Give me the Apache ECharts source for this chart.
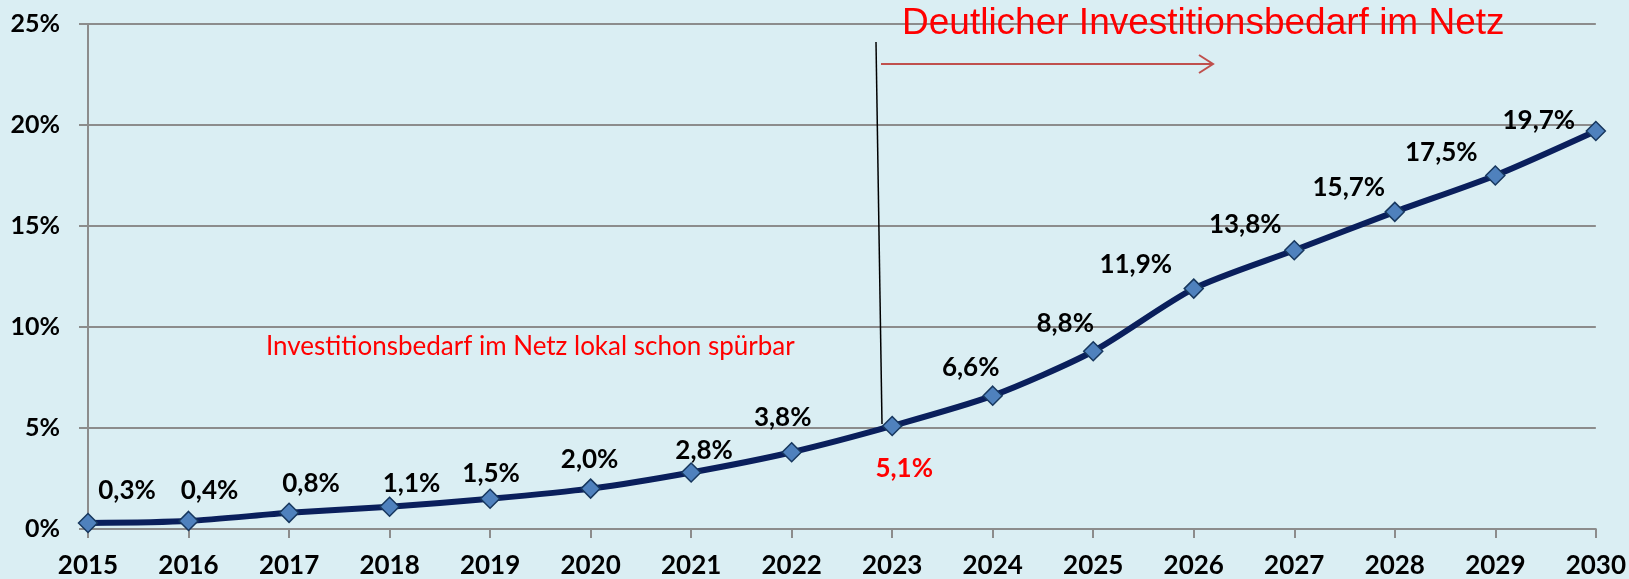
<!DOCTYPE html>
<html>
<head>
<meta charset="utf-8">
<script src="https://cdn.jsdelivr.net/npm/echarts@6/dist/echarts.min.js"></script>
<style>
  html, body { margin: 0; padding: 0; background: #daeef3; }
  #main { width: 1629px; height: 579px; }
</style>
</head>
<body>
<div id="main"></div>
<script>
var years = ['2015', '2016', '2017', '2018', '2019', '2020', '2021', '2022',
             '2023', '2024', '2025', '2026', '2027', '2028', '2029', '2030'];
var shares = [0.3, 0.4, 0.8, 1.1, 1.5, 2.0, 2.8, 3.8, 5.1, 6.6, 8.8, 11.9, 13.8, 15.7, 17.5, 19.7];
var yTicks = [0, 5, 10, 15, 20, 25];
// index of the highlighted (red) value
var highlightIdx = 8;

// where each value label sits relative to its point (px)
var labelOffsets = [[39, -32], [21, -30], [22, -29], [22, -23], [1, -25], [-1, -29], [13, -22], [-9, -35],
                    [12, 43], [-22, -28], [-28, -28], [-58, -24], [-49, -26], [-46, -24], [-54, -23], [-57, -10]];

var myChart = echarts.init(document.getElementById('main'));

var seriesData = shares.map(function(v, i) {
    return {
        value: v,
        label: {
            show: true,
            position: 'inside',
            offset: labelOffsets[i],
            color: i == highlightIdx ? '#ff0000' : '#000000'
        }
    };
});

var option = {
    backgroundColor: '#daeef3',
    animation: false,
    grid: {
        left: 88,
        right: 33,
        top: 24,
        bottom: 49
    },
    xAxis: {
        type: 'category',
        data: years,
        boundaryGap: false,
        axisLine: { lineStyle: { color: '#8c8c8c', width: 2 } },
        axisTick: { show: true, length: 9, lineStyle: { color: '#8c8c8c', width: 2 } },
        axisLabel: {
            margin: 24,
            color: '#000',
            fontFamily: 'Lato',
            fontWeight: 'bold',
            fontSize: 26
        },
        splitLine: { show: false }
    },
    yAxis: {
        type: 'value',
        min: yTicks[0],
        max: yTicks[yTicks.length - 1],
        interval: 5,
        axisLine: { show: true, lineStyle: { color: '#8c8c8c', width: 2 } },
        axisTick: { show: true, length: 9, lineStyle: { color: '#8c8c8c', width: 2 } },
        axisLabel: {
            margin: 28,
            color: '#000',
            fontFamily: 'Lato',
            fontWeight: 'bold',
            fontSize: 25,
            formatter: '{value}%'
        },
        splitLine: { show: true, lineStyle: { color: '#8c8c8c', width: 2 } }
    },
    series: [{
        type: 'line',
        data: seriesData,
        smooth: 0.25,
        symbol: 'diamond',
        symbolSize: 19,
        lineStyle: { color: '#0a1f5c', width: 6 },
        itemStyle: { color: '#4f81bd', borderColor: '#17375e', borderWidth: 1.5 },
        label: {
            fontFamily: 'Lato',
            fontWeight: 'bold',
            fontSize: 26,
            formatter: function(p) {
                return p.value.toFixed(1).replace('.', ',') + '%';
            }
        },
        z: 3
    }],
    graphic: [
        // vertical marker at 2023
        {
            type: 'line',
            shape: { x1: 876, y1: 42, x2: 882, y2: 424 },
            style: { stroke: '#000', lineWidth: 1.5 },
            z: 10
        },
        // arrow
        {
            type: 'polyline',
            shape: { points: [[881, 64], [1213, 64]] },
            style: { stroke: '#c0504d', lineWidth: 2 },
            z: 10
        },
        {
            type: 'polyline',
            shape: { points: [[1199, 55], [1213, 64], [1199, 73]] },
            style: { stroke: '#c0504d', lineWidth: 2, fill: null },
            z: 10
        },
        {
            type: 'text',
            left: 902,
            top: 5,
            style: {
                text: 'Deutlicher Investitionsbedarf im Netz',
                fill: '#ff0000',
                font: '37px "Liberation Sans", Arial, sans-serif'
            },
            z: 10
        },
        {
            type: 'text',
            left: 266,
            top: 334,
            style: {
                text: 'Investitionsbedarf im Netz lokal schon spürbar',
                fill: '#ff0000',
                font: '26px Lato, sans-serif'
            },
            z: 10
        }
    ]
};

myChart.setOption(option);
</script>
</body>
</html>
